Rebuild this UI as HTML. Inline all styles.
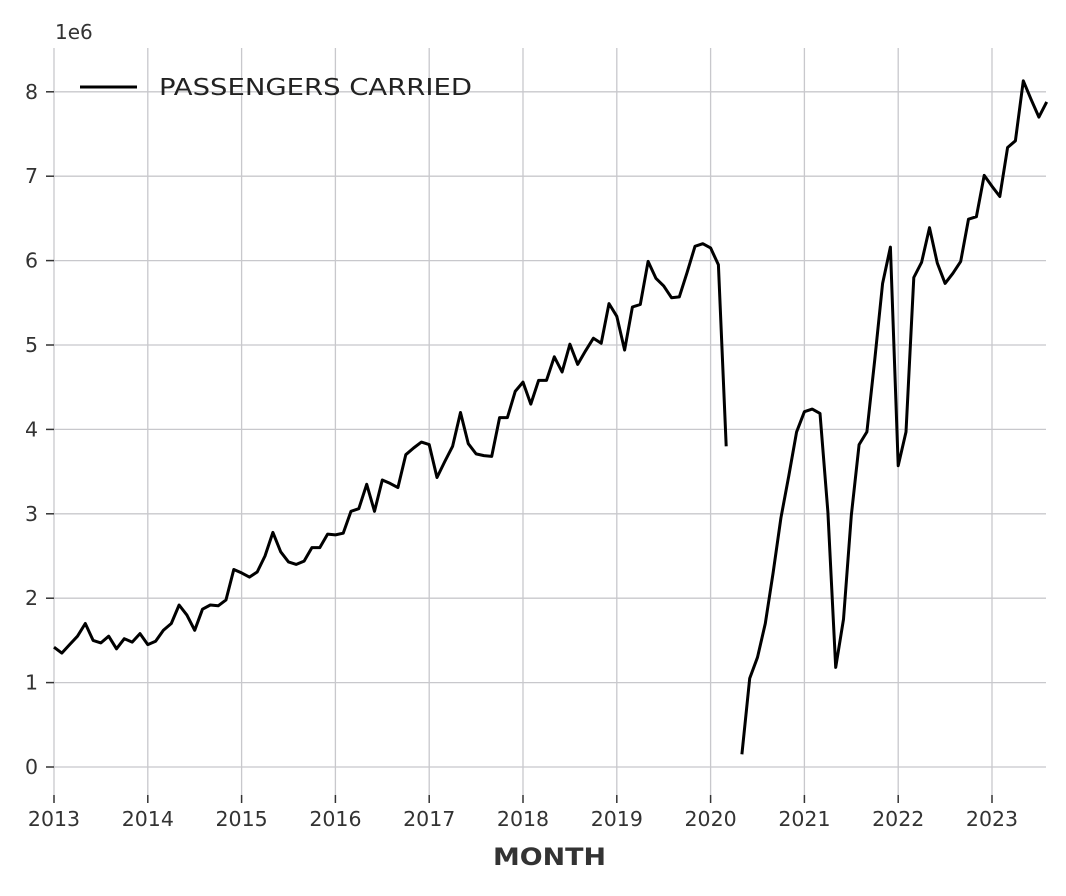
<!DOCTYPE html>
<html><head><meta charset="utf-8"><style>
body{margin:0;background:#fff;font-family:"DejaVu Sans","Liberation Sans",sans-serif}
</style></head><body>
<svg id="chart" width="1066" height="892" xmlns="http://www.w3.org/2000/svg" font-family="DejaVu Sans, Liberation Sans, sans-serif">
<g id="grid"></g>
<g id="axes"></g>
<path id="line" fill="none" stroke="#000" stroke-width="3" stroke-linejoin="round"></path>
<text x="55" y="39" font-size="20" fill="#333">1e6</text>
<g>
<line x1="80" y1="87" x2="137" y2="87" stroke="#000" stroke-width="3"/>
<text x="159" y="95" font-size="23" fill="#222" textLength="313" lengthAdjust="spacingAndGlyphs">PASSENGERS CARRIED</text>
</g>
<text x="493" y="865" font-size="24" font-weight="bold" fill="#333" textLength="113" lengthAdjust="spacingAndGlyphs">MONTH</text>
</svg>
<script>
const years=[2013,2014,2015,2016,2017,2018,2019,2020,2021,2022,2023];
const yTicks=[0,1,2,3,4,5,6,7,8];
const startYear=2013;
const passengers=[
1.42,1.35,1.45,1.55,1.70,1.50,1.47,1.55,1.40,1.52,1.48,1.58,
1.45,1.49,1.62,1.70,1.92,1.80,1.62,1.87,1.92,1.91,1.98,2.34,
2.30,2.25,2.31,2.50,2.78,2.55,2.43,2.40,2.44,2.60,2.60,2.76,
2.75,2.77,3.03,3.06,3.35,3.03,3.40,3.36,3.31,3.70,3.78,3.85,
3.82,3.43,3.62,3.80,4.20,3.83,3.71,3.69,3.68,4.14,4.14,4.45,
4.56,4.30,4.58,4.58,4.86,4.68,5.01,4.77,4.93,5.08,5.02,5.49,
5.34,4.94,5.45,5.48,5.99,5.79,5.70,5.56,5.57,5.86,6.17,6.20,
6.15,5.95,3.80,null,0.15,1.05,1.30,1.70,2.30,2.95,3.45,3.97,
4.21,4.24,4.19,3.02,1.18,1.75,2.98,3.82,3.97,4.83,5.73,6.16,
3.57,3.97,5.80,5.98,6.39,5.97,5.73,5.85,5.99,6.49,6.52,7.01,
6.88,6.76,7.34,7.42,8.13,7.91,7.70,7.88];
const NS="http://www.w3.org/2000/svg";
const X=m=>54+m*(938/120);
const Y=v=>767-v*84.4;
const grid=document.getElementById('grid'),axes=document.getElementById('axes');
function mk(tag,attrs,parent){const e=document.createElementNS(NS,tag);for(const k in attrs)e.setAttribute(k,attrs[k]);parent.appendChild(e);return e;}
yTicks.forEach(t=>{
 const l=mk('line',{x1:54,x2:1046,y1:Y(t),y2:Y(t),stroke:'#c8c8cc','stroke-width':1.3},grid);
 
 
 const tk=mk('line',{x1:46,x2:54,y1:Y(t),y2:Y(t),stroke:'#333','stroke-width':1.5},axes);
 
 
 const tx=mk('text',{x:38,y:Y(t)+7,'font-size':20.5,fill:'#333','text-anchor':'end'},axes);
 tx.textContent=t;
 
 
});
years.forEach(yr=>{
 const x=X((yr-startYear)*12);
 const l=mk('line',{x1:x,x2:x,y1:48,y2:795,stroke:'#c8c8cc','stroke-width':1.3},grid);
 
 
 const tk=mk('line',{x1:x,x2:x,y1:795,y2:803,stroke:'#333','stroke-width':1.5},axes);
 
 
 const tx=mk('text',{x:x,y:826,'font-size':20.5,fill:'#333','text-anchor':'middle'},axes);
 tx.textContent=yr;
 
 
});
let d='',pen=false;
passengers.forEach((v,i)=>{
 if(v===null){pen=false;return;}
 d+=(pen?'L':'M')+X(i).toFixed(1)+' '+Y(v).toFixed(1)+' ';pen=true;
});
document.getElementById('line').setAttribute('d',d);
</script>
</body></html>
